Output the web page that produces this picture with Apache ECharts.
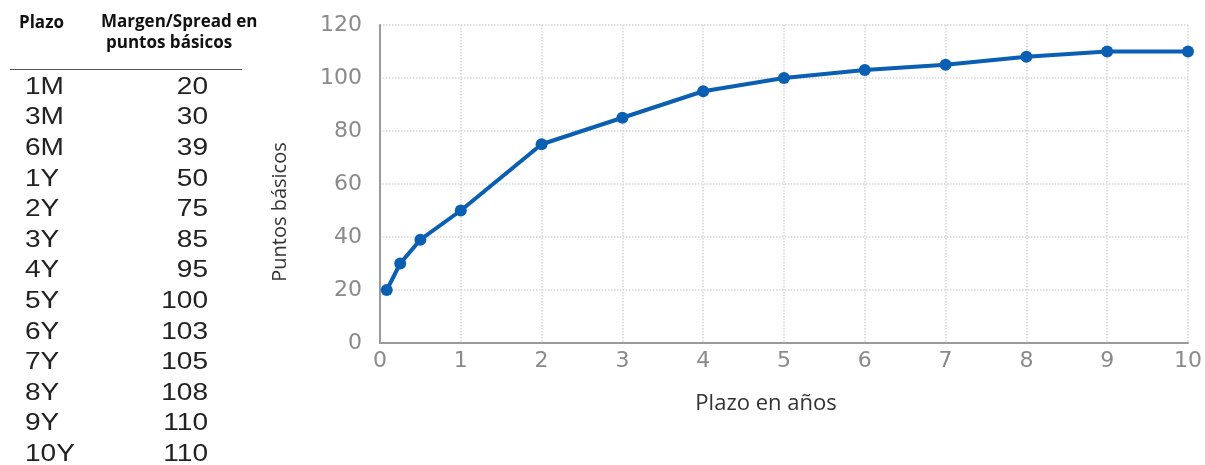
<!DOCTYPE html>
<html>
<head>
<meta charset="utf-8">
<style>
  html, body { margin: 0; padding: 0; background: #fff; }
  #chart { width: 1205px; height: 465px; }
</style>
<script src="https://cdn.jsdelivr.net/npm/echarts@6/dist/echarts.min.js"></script>
</head>
<body>
<div id="chart"></div>
<script>
// Term labels and spread (basis points) shown in the side table
const terms = ['1M', '3M', '6M', '1Y', '2Y', '3Y', '4Y', '5Y', '6Y', '7Y', '8Y', '9Y', '10Y'];
// Term length in years for each row
const termYears = [1 / 12, 0.25, 0.5, 1, 2, 3, 4, 5, 6, 7, 8, 9, 10];
const spreads = [20, 30, 39, 50, 75, 85, 95, 100, 103, 105, 108, 110, 110];

const tableHeaders = ['Plazo', 'Margen/Spread en', 'puntos básicos'];
const xAxisTitle = 'Plazo en años';
const yAxisTitle = 'Puntos básicos';

const chart = echarts.init(document.getElementById('chart'));

const headerFont = 'bold 17px "Open Sans", sans-serif';
const rowFont = '23px "Liberation Sans", Arial, sans-serif';
const rowStretch = 1.22;

// Side table: header, rule and one row per term
const tableElements = [
  { type: 'text', x: 19, y: 23, style: { text: tableHeaders[0], font: headerFont, fill: '#111', verticalAlign: 'middle' } },
  { type: 'text', x: 101, y: 22, style: { text: tableHeaders[1], font: headerFont, fill: '#111', verticalAlign: 'middle' } },
  { type: 'text', x: 106, y: 43, style: { text: tableHeaders[2], font: headerFont, fill: '#111', verticalAlign: 'middle' } },
  {
    type: 'line',
    shape: { x1: 10, y1: 69.5, x2: 242, y2: 69.5 },
    style: { stroke: '#555', lineWidth: 1 }
  }
];
terms.forEach((t, i) => {
  const cy = 87.5 + i * 30.6;
  tableElements.push({
    type: 'text', x: 25, y: cy, scaleX: rowStretch,
    style: { text: t, font: rowFont, fill: '#222', verticalAlign: 'middle', align: 'left' }
  });
  tableElements.push({
    type: 'text', x: 208, y: cy, scaleX: rowStretch,
    style: { text: String(spreads[i]), font: rowFont, fill: '#222', verticalAlign: 'middle', align: 'right' }
  });
});

const tickFont = '"DejaVu Sans", Verdana, sans-serif';

chart.setOption({
  animation: false,
  grid: { left: 380, right: 17, top: 25, bottom: 122, containLabel: false },
  xAxis: {
    type: 'value',
    min: 0, max: 10, interval: 1,
    name: xAxisTitle,
    nameLocation: 'middle',
    nameGap: 50,
    nameTextStyle: { fontSize: 22, color: '#333', fontFamily: '"Open Sans", sans-serif', padding: [0, 36, 0, 0] },
    axisLine: { show: true, lineStyle: { color: '#9a9a9a', width: 2 } },
    axisTick: { show: false },
    axisLabel: { fontSize: 22, color: '#8a8a8a', margin: 7, fontFamily: tickFont },
    splitLine: { show: true, lineStyle: { color: '#d8d8d8', type: 'dotted', width: 1.5 } }
  },
  yAxis: {
    type: 'value',
    min: 0, max: 120, interval: 20,
    name: yAxisTitle,
    nameLocation: 'middle',
    nameGap: 90,
    nameRotate: 90,
    nameTextStyle: { fontSize: 20, color: '#333', fontFamily: '"Open Sans", sans-serif', padding: [0, 56, 0, 0] },
    axisLine: { show: true, lineStyle: { color: '#9a9a9a', width: 2 } },
    axisTick: { show: false },
    axisLabel: { fontSize: 22, color: '#8a8a8a', margin: 18, fontFamily: tickFont },
    splitLine: { show: true, lineStyle: { color: '#d8d8d8', type: 'dotted', width: 1.5 } }
  },
  series: [{
    type: 'line',
    data: termYears.map((x, i) => [x, spreads[i]]),
    symbol: 'circle',
    symbolSize: 12,
    lineStyle: { color: '#0b5fb3', width: 4 },
    itemStyle: { color: '#0b5fb3' }
  }],
  graphic: tableElements
});
</script>
</body>
</html>
